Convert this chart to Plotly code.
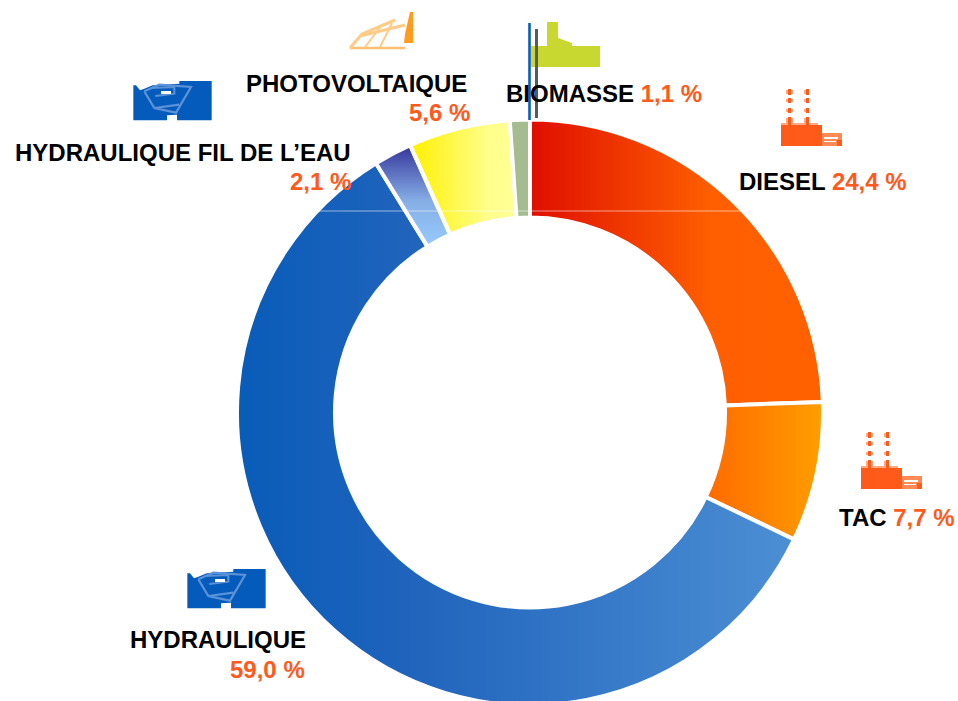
import plotly.graph_objects as go

categories = ["DIESEL", "TAC", "HYDRAULIQUE", "HYDRAULIQUE FIL DE L’EAU", "PHOTOVOLTAIQUE", "BIOMASSE"]
values = [24.4, 7.7, 59.0, 2.1, 5.6, 1.1]
base_colors = ["#FF5F00", "#FF8A00", "#2A6CC0", "#6C88C8", "#FFF870", "#A4BC90"]

W, H = 958, 720
ORANGE = "#FF5A1E"

def X(px):
    return px / W
def Y(py):
    return 1 - py / H

def path(points):
    return "M " + " L ".join(f"{X(a):.5f},{Y(b):.5f}" for a, b in points) + " Z"

def poly(points, fill, line=None, lw=0):
    return dict(type="path", xref="paper", yref="paper", path=path(points), fillcolor=fill,
                line=dict(color=line or fill, width=lw), layer="above")

def rect(x0, y0, x1, y1, fill):
    return poly([(x0, y0), (x1, y0), (x1, y1), (x0, y1)], fill)

def seg(points, color, width):
    d = "M " + " L ".join(f"{X(a):.5f},{Y(b):.5f}" for a, b in points)
    return dict(type="path", xref="paper", yref="paper", path=d, line=dict(color=color, width=width), layer="above")

def factory(dx, dy):
    c = "#FF5A1A"; l = "#FFAA80"
    s = []
    s.append(rect(781 + dx, 125 + dy, 822 + dx, 146 + dy, c))
    s.append(rect(781 + dx, 123 + dy, 818 + dx, 125 + dy, l))
    for x0, halo in ((786, 7), (804, 4)):
        for y0, y1 in ((89, 95), (98, 103), (108, 113), (117, 125)):
            s.append(rect(x0 + dx, y0 + 1 + dy, x0 + halo + dx, y1 - 1 + dy, l))
            s.append(rect(x0 + 2 + dx, y0 + dy, x0 + 5 + dx, y1 + dy, c))
    s.append(rect(822 + dx, 133 + dy, 842 + dx, 146 + dy, "#FF8A55"))
    s.append(rect(824 + dx, 137 + dy, 838 + dx, 139 + dy, "#FFFFFF"))
    s.append(rect(824 + dx, 141 + dy, 836 + dx, 142 + dy, "#FFFFFF"))
    s.append(rect(837 + dx, 140 + dy, 842 + dx, 146 + dy, c))
    return s

def hydro(dx, dy):
    b = "#045BBB"; l = "#5B92D8"
    ox, oy = 170 + dx, 560 + dy
    p = lambda pts: [(ox + a / 3, oy + c / 3) for a, c in pts]
    s = [poly(p([(52, 40), (60, 40), (72, 55), (85, 50), (110, 40), (190, 35), (190, 27), (287, 27), (287, 145),
                 (183, 145), (183, 128), (153, 130), (153, 145), (52, 145)]), b)]
    s.append(seg(p([(85, 58), (130, 38), (225, 45), (180, 122), (115, 108), (85, 58)]), l, 2.2))
    s.append(seg(p([(105, 48), (175, 45), (175, 65), (118, 72)]), l, 2))
    s.append(seg(p([(115, 108), (190, 98)]), l, 2.2))
    s.append(rect(ox + 135 / 3, oy + 57 / 3, ox + 165 / 3, oy + 66 / 3, "#FFFFFF"))
    return s

shapes = []
shapes += factory(0, 0) + factory(80, 343)
shapes += hydro(0, 0) + hydro(-54, -488)

# Photovoltaic icon
pv_l = "#FFCC88"
shapes.append(seg([(350, 48), (405, 48)], "#FFC070", 2.4))
shapes.append(seg([(350, 48), (362, 34), (395, 20)], pv_l, 3))
shapes.append(seg([(360, 36), (405, 25)], pv_l, 3))
shapes.append(seg([(365, 47), (382, 25)], pv_l, 2))
shapes.append(seg([(380, 47), (392, 23)], pv_l, 2))
shapes.append(poly([(404, 43), (405, 34), (407, 25), (410, 12), (413, 12), (413, 43)], "#FF9C20"))

# Biomass icon
shapes.append(poly([(531, 46), (547, 46), (547, 22), (558, 22), (558, 38), (572, 43), (572, 46), (600, 46), (600, 67), (531, 67)], "#C8D830"))
shapes.append(seg([(536.5, 29), (536.5, 118)], "#5A5A5A", 3))
shapes.append(seg([(529.5, 23), (529.5, 120)], "#0A5CB8", 2.6))

# thin light line crossing the ring
shapes.append(dict(type="line", xref="paper", yref="paper", x0=X(318), x1=X(740), y0=Y(211), y1=Y(211),
                   line=dict(color="rgba(255,255,255,0.55)", width=1), layer="above"))

def pct(v):
    return f"{v:.1f}".replace(".", ",") + " %"

FS = 24

def label(x, y, text, anchor="left", color="#000000"):
    return dict(x=X(x), y=Y(y), xref="paper", yref="paper", text=f"<b>{text}</b>", showarrow=False,
                xanchor=anchor, yanchor="middle", align=anchor, borderpad=0, borderwidth=0,
                font=dict(family="Liberation Sans", size=FS, color=color))

sp = lambda v: f"<span style='color:{ORANGE}'>{pct(v)}</span>"
annotations = [
    label(739, 181, f"{categories[0]} {sp(values[0])}"),
    label(839, 517, f"{categories[1]} {sp(values[1])}"),
    label(130, 639, categories[2]),
    label(305, 669, pct(values[2]), "right", ORANGE),
    label(15, 152, categories[3]),
    label(351, 181, pct(values[3]), "right", ORANGE),
    label(246, 83, categories[4]),
    label(470, 112, pct(values[4]), "right", ORANGE),
    label(506, 94, f"{categories[5]} {sp(values[5])}"),
]

cx, cy, R, r_in = 530, 412.5, 293, 195

fig = go.Figure(go.Pie(
    labels=categories, values=values, sort=False, direction="clockwise", rotation=0,
    hole=r_in / R, textinfo="none", showlegend=False,
    marker=dict(colors=base_colors, line=dict(color="#FFFFFF", width=4)),
    domain=dict(x=[X(cx - R), X(cx + R)], y=[Y(cy + R), Y(cy - R)]),
))
fig.update_layout(width=W, height=H, margin=dict(l=0, r=0, t=0, b=0), paper_bgcolor="#FFFFFF",
                  shapes=shapes, annotations=annotations, showlegend=False)

post = """
document.documentElement.style.overflow='hidden';
document.body.style.margin='0';document.body.style.overflow='hidden';
var gd=document.getElementsByClassName('plotly-graph-div')[0];
var svg=gd.querySelector('svg.main-svg');
var NS='http://www.w3.org/2000/svg';
var defs=document.createElementNS(NS,'defs');
var grads=[
 {v:false,s:[[0,'#DF0E00'],[0.62,'#FF5F00'],[1,'#FF6000']]},
 {v:false,s:[[0,'#FF6A00'],[1,'#FF9E00']]},
 {v:false,s:[[0,'#085CB8'],[0.3,'#1F63BC'],[1,'#4C8FD4']]},
 {v:true,s:[[0,'#34349A'],[0.55,'#86AEE6'],[1,'#96CBFC']]},
 {v:false,s:[[0,'#FFF000'],[0.75,'#FFFF8C'],[1,'#FFFF96']]},
 {v:false,s:[[0,'#A4BC90'],[1,'#A4BC90']]}
];
grads.forEach(function(g,i){
  var lg=document.createElementNS(NS,'linearGradient');
  lg.setAttribute('id','sg'+i);lg.setAttribute('x1','0');lg.setAttribute('y1','0');
  lg.setAttribute('x2',g.v?'0':'1');lg.setAttribute('y2',g.v?'1':'0');
  g.s.forEach(function(st){var e=document.createElementNS(NS,'stop');
    e.setAttribute('offset',st[0]);e.setAttribute('stop-color',st[1]);lg.appendChild(e);});
  defs.appendChild(lg);
});
svg.insertBefore(defs,svg.firstChild);
gd.querySelectorAll('.slice path.surface').forEach(function(p,i){p.style.fill='url(#sg'+i+')';});
"""
fig.write_html("out.html", post_script=post, config=dict(displayModeBar=False))
